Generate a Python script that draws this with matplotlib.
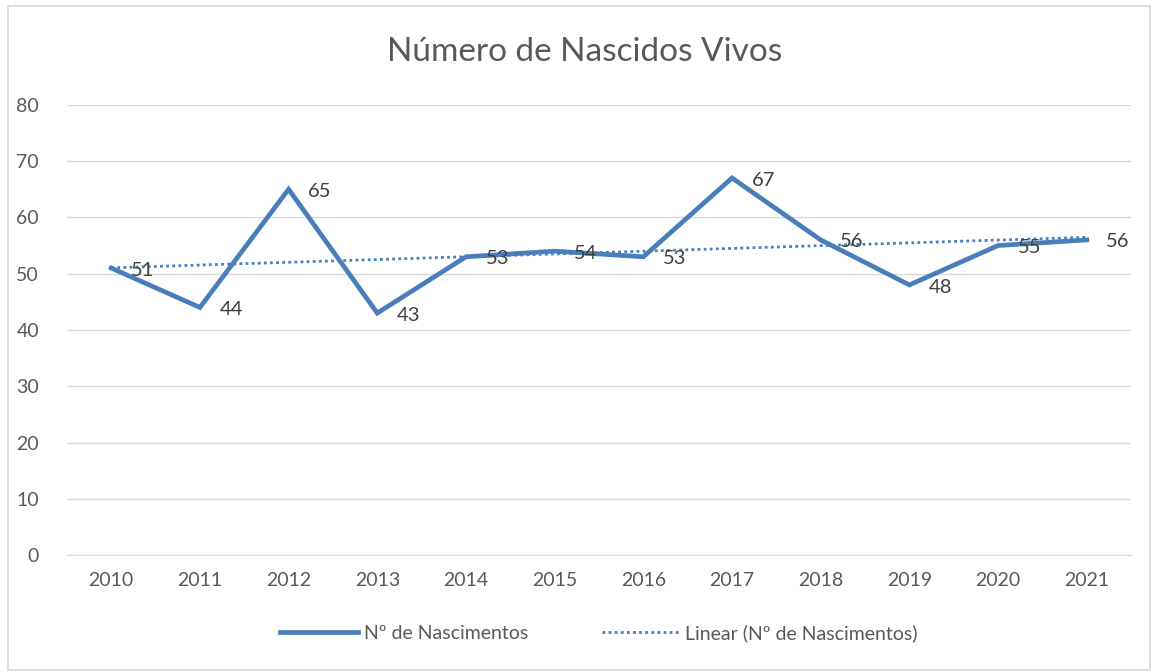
import matplotlib.pyplot as plt
import numpy as np

plt.rcParams['font.family'] = ['Lato', 'DejaVu Sans']

years = ['2010', '2011', '2012', '2013', '2014', '2015', '2016', '2017', '2018', '2019', '2020', '2021']
nascimentos = [51, 44, 65, 43, 53, 54, 53, 67, 56, 48, 55, 56]

blue = '#4a7ebb'
grey = '#595959'

fig = plt.figure(figsize=(11.53, 6.72), dpi=100)
ax = fig.add_axes([0.058, 0.174, 0.923, 0.67])

x = np.arange(len(years))
ax.plot(x, nascimentos, color=blue, lw=3.4, solid_joinstyle='miter', label='Nº de Nascimentos', zorder=3)

# linear trendline (least squares, like Excel)
slope, icpt = np.polyfit(x, nascimentos, 1)
ax.plot(x, slope * x + icpt, color=blue, lw=2, ls=(0, (1, 1.2)), label='Linear (Nº de Nascimentos)', zorder=2)

for xi, v in zip(x, nascimentos):
    ax.annotate(str(v), (xi, v), xytext=(14, -1.5), textcoords='offset points',
                ha='left', va='center', fontsize=14.5, color='#404040', zorder=4)

ax.set_xlim(-0.5, len(years) - 0.5)
ax.set_ylim(0, 80)
ax.set_yticks(range(0, 81, 10))
ax.set_xticks(x)
ax.set_xticklabels(years)
ax.tick_params(length=0, labelsize=14, colors=grey, pad=12)
ax.tick_params(axis='y', pad=20)
ax.grid(axis='y', color='#d9d9d9', lw=1)
ax.set_axisbelow(True)
for s in ['top', 'right', 'left']:
    ax.spines[s].set_visible(False)
ax.spines['bottom'].set_color('#d9d9d9')

fig.text(0.507, 0.922, 'Número de Nascidos Vivos', ha='center', va='center', fontsize=24, color=grey)

ax.legend(loc='upper center', bbox_to_anchor=(0.5, -0.115), ncol=2, frameon=False,
          fontsize=14, labelcolor=grey, handlelength=4, columnspacing=3.8, handletextpad=0.3)

# chart border
fig.patches.append(plt.Rectangle((0.007, 0.003), 0.99, 0.988, transform=fig.transFigure,
                                 fill=False, edgecolor='#d9d9d9', lw=1.2))

fig.savefig('out.png', dpi=100)
